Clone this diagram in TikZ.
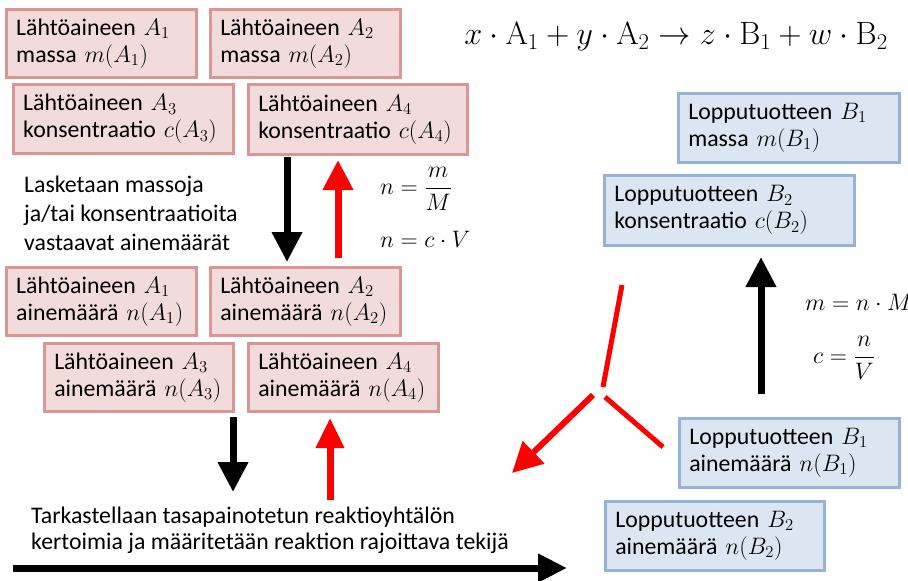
\RequirePackage{fix-cm}
\documentclass[tikz,border=0pt]{standalone}
\usepackage{amsmath}
\usepackage[no-math]{fontspec}
\setmainfont{Carlito}
\usetikzlibrary{arrows.meta}
\definecolor{pfill}{HTML}{F2DCDB}
\definecolor{pdraw}{HTML}{D99694}
\definecolor{bfill}{HTML}{DCE6F2}
\definecolor{bdraw}{HTML}{95B3D7}
\definecolor{arrred}{HTML}{FF0000}
\begin{document}
\begin{tikzpicture}[x=1pt,y=-1pt,
  box/.style={rectangle, anchor=north west, line width=2.5pt, inner xsep=10pt, inner ysep=0pt, align=left, font=\fontsize{23.8}{27}\selectfont},
  pbox/.style={box, fill=pfill, draw=pdraw},
  bbox/.style={box, fill=bfill, draw=bdraw},
  blk/.style={line width=7pt, -{Triangle[width=29pt,length=30pt]}, black},
  rd/.style={line width=6pt, -{Triangle[width=30pt,length=30pt]}, arrred},
  rdl/.style={line width=5pt, arrred},
  lbl/.style={inner sep=0pt, font=\fontsize{23.8}{27}\selectfont},
]
\useasboundingbox (0,0) rectangle (908,581);

% reactant boxes
\node[pbox, minimum width=190pt, minimum height=68pt, text width=170pt] (a1m) at (5,8) {Lähtöaineen $A_1$\\massa $m(A_1)$};
\node[pbox, minimum width=190pt, minimum height=68pt, text width=170pt] (a2m) at (209,8) {Lähtöaineen $A_2$\\massa $m(A_2)$};
\node[pbox, minimum width=220pt, minimum height=69pt, text width=200pt] (a3c) at (12,83) {Lähtöaineen $A_3$\\konsentraatio $c(A_3)$};
\node[pbox, minimum width=219pt, minimum height=70pt, text width=199pt] (a4c) at (247,83) {Lähtöaineen $A_4$\\konsentraatio $c(A_4)$};

\node[pbox, minimum width=190pt, minimum height=68pt, text width=170pt] (a1n) at (5,266) {Lähtöaineen $A_1$\\ainemäärä $n(A_1)$};
\node[pbox, minimum width=190pt, minimum height=68pt, text width=170pt] (a2n) at (209,266) {Lähtöaineen $A_2$\\ainemäärä $n(A_2)$};
\node[pbox, minimum width=189pt, minimum height=68pt, text width=169pt] (a3n) at (43,342) {Lähtöaineen $A_3$\\ainemäärä $n(A_3)$};
\node[pbox, minimum width=190pt, minimum height=68pt, text width=170pt] (a4n) at (247,342) {Lähtöaineen $A_4$\\ainemäärä $n(A_4)$};

% product boxes
\node[bbox, minimum width=221pt, minimum height=69pt, text width=201pt] (b1m) at (677,92) {Lopputuotteen $B_1$\\massa $m(B_1)$};
\node[bbox, minimum width=250pt, minimum height=70pt, text width=230pt] (b2c) at (603,174) {Lopputuotteen $B_2$\\konsentraatio $c(B_2)$};
\node[bbox, minimum width=220pt, minimum height=69pt, text width=200pt] (b1n) at (678,417) {Lopputuotteen $B_1$\\ainemäärä $n(B_1)$};
\node[bbox, minimum width=219pt, minimum height=69pt, text width=199pt] (b2n) at (604,500) {Lopputuotteen $B_2$\\ainemäärä $n(B_2)$};

% equation
\node[inner sep=0pt, font=\fontsize{32.3}{38}\selectfont] (eq) at (676,37) {$x\cdot \mathrm{A}_1 + y\cdot \mathrm{A}_2 \rightarrow z\cdot \mathrm{B}_1 + w\cdot \mathrm{B}_2$};

% texts
\node[lbl, anchor=west, align=left, font=\fontsize{23.8}{29}\selectfont] (calc) at (24,213) {Lasketaan massoja\\ja/tai konsentraatioita\\vastaavat ainemäärät};
\node[lbl, anchor=west, align=left, font=\fontsize{23.8}{26}\selectfont] (tark) at (31,530) {Tarkastellaan tasapainotetun reaktioyhtälön\\kertoimia ja määritetään reaktion rajoittava tekijä};

% formulas
\node[lbl, anchor=west] (f1) at (380,189) {$n=\dfrac{m}{M}$};
\node[lbl, anchor=base west] (f2) at (380,247) {$n=c\cdot V$};
\node[lbl, anchor=base west] (f3) at (805,310) {$m=n\cdot M$};
\node[lbl, anchor=west] (f4) at (813,358) {$c=\dfrac{n}{V}$};

% arrow endpoints
\coordinate (d1s) at (287,157); \coordinate (d1e) at (287,262);
\coordinate (u1s) at (338,258); \coordinate (u1e) at (338,160);
\coordinate (d2s) at (233,417); \coordinate (d2e) at (233,492);
\coordinate (u2s) at (330,500); \coordinate (u2e) at (330,418);
\coordinate (hs) at (13,568);   \coordinate (he) at (567,568);
\coordinate (u3s) at (761,394); \coordinate (u3e) at (761,257);
\coordinate (r1s) at (622,285); \coordinate (r1e) at (603,387);
\coordinate (r2s) at (663,447); \coordinate (r2e) at (605,397);
\coordinate (r3s) at (593,395); \coordinate (r3e) at (512,473);

\draw[blk] (d1s) -- (d1e);
\draw[rd, line width=7pt, -{Triangle[width=29pt,length=30pt]}] (u1s) -- (u1e);
\draw[blk] (d2s) -- (d2e);
\draw[rd, line width=7pt, -{Triangle[width=27pt,length=30pt]}] (u2s) -- (u2e);
\draw[blk, -{Triangle[width=27pt,length=29pt]}] (hs) -- (he);
\draw[blk] (u3s) -- (u3e);
\draw[rdl] (r1s) -- (r1e);
\draw[rdl] (r2s) -- (r2e);
\draw[rd] (r3s) -- (r3e);
\end{tikzpicture}
\end{document}
